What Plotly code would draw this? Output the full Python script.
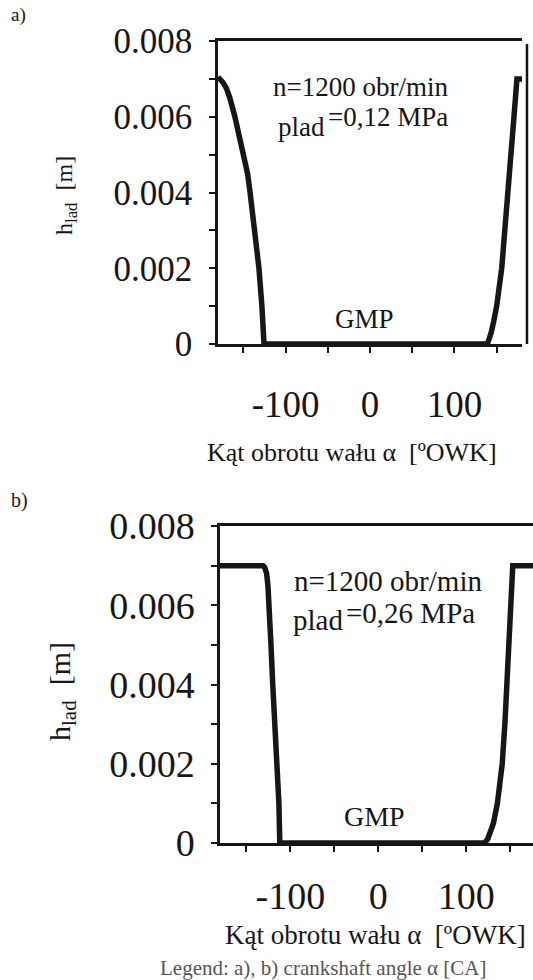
import plotly.graph_objects as go

# ---- data ----
alpha_a = [-180, -177, -174, -170, -166, -160, -155, -149, -145, -142, -136, -131.5, -128, -125.5,
           139, 141, 143.5, 146.5, 150, 156, 160, 163.5, 167, 170.5, 174, 180]
h_a = [0.00705, 0.00699, 0.0069, 0.00675, 0.0065, 0.0060, 0.0055, 0.0050, 0.0045, 0.0040, 0.0030, 0.0020, 0.0010, 0.0,
       0.0, 0.0001, 0.0003, 0.0006, 0.0010, 0.0020, 0.0030, 0.0040, 0.0050, 0.0060, 0.0070, 0.0070]

alpha_b = [-180, -131, -129, -127, -125.5, -124, -122, -120, -117.5, -115, -113, -112,
           121, 124.5, 128, 131, 135.5, 141, 144, 146, 148, 149.7, 151.5, 153, 180]
h_b = [0.0070, 0.0070, 0.00695, 0.0068, 0.0065, 0.0060, 0.0050, 0.0040, 0.0030, 0.0020, 0.0010, 0.0,
       0.0, 0.0001, 0.0003, 0.0005, 0.0010, 0.0020, 0.0030, 0.0040, 0.0050, 0.0060, 0.0069, 0.0070, 0.0070]

y_tickvals = [0, 0.001, 0.002, 0.003, 0.004, 0.005, 0.006, 0.007, 0.008]
y_ticktext = ["0", "", "0.002", "", "0.004", "", "0.006", "", "0.008"]
x_tickvals = [-150, -100, -50, 0, 50, 100, 150]
x_ticktext = ["", "-100", "", "0", "", "100", ""]

label_n = "n=1200 obr/min"
label_p_a = "=0,12 MPa"
label_p_b = "=0,26 MPa"
label_sym = "plad"
label_gmp = "GMP"
x_title = "Kąt obrotu wału α  [ºOWK]"
y_title = "h<sub>lad</sub>  [m]"
caption = "Legend: a), b) crankshaft angle α [CA]"

W, H = 533, 980
FONT = "Liberation Serif, Times New Roman, Times, serif"
INK = "#161616"


def px(xp):
    return xp / W


def py(yp):
    return 1 - yp / H


fig = go.Figure()
fig.add_trace(go.Scatter(x=alpha_a, y=h_a, mode="lines", line=dict(color=INK, width=5.5),
                         xaxis="x", yaxis="y", showlegend=False, hoverinfo="skip"))
fig.add_trace(go.Scatter(x=alpha_b, y=h_b, mode="lines", line=dict(color=INK, width=5.5),
                         xaxis="x2", yaxis="y2", showlegend=False, hoverinfo="skip"))


def xax(domain, rng, size, standoff):
    return dict(domain=domain, range=rng, tickmode="array", tickvals=x_tickvals, ticktext=x_ticktext,
                ticks="outside", ticklen=6, tickwidth=2, tickcolor=INK, showline=True, linewidth=2.5,
                linecolor=INK, mirror=True, showgrid=False, zeroline=False, automargin=False,
                tickfont=dict(family=FONT, size=size, color=INK), ticklabelstandoff=standoff)


def yax(domain, size, standoff, anchor):
    return dict(domain=domain, range=[0, 0.008], tickmode="array", tickvals=y_tickvals, ticktext=y_ticktext,
                ticks="outside", ticklen=6, tickwidth=2, tickcolor=INK, showline=True, linewidth=2.5,
                linecolor=INK, mirror=False, showgrid=False, zeroline=False, anchor=anchor, automargin=False,
                tickfont=dict(family=FONT, size=size, color=INK), ticklabelstandoff=standoff)


fig.update_layout(
    width=W, height=H, autosize=False,
    margin=dict(l=0, r=0, t=0, b=0, pad=0, autoexpand=False),
    paper_bgcolor="white", plot_bgcolor="white",
    xaxis=dict(**xax([px(218), px(522)], [-180, 180], 37, 20), anchor="y"),
    yaxis=yax([py(344), py(41)], 35, 10, "x"),
    xaxis2=dict(**xax([px(220), 1.0], [-180, 176], 38, 12), anchor="y2"),
    yaxis2=yax([py(843), py(526)], 38, 9, "x2"),
)

# separate right border line of panel a
fig.add_shape(type="line", xref="x domain", yref="y domain", x0=1.0164, x1=1.0164, y0=0.0, y1=0.99,
              line=dict(color=INK, width=2.5))

ann = []


def T(text, x, y, size, xanchor="left", color=INK, angle=0):
    ann.append(dict(text=text, x=px(x), y=py(y), xref="paper", yref="paper", xanchor=xanchor,
                    yanchor="middle", showarrow=False, textangle=angle,
                    font=dict(family=FONT, size=size, color=color)))


# panel a
T("a)", 9, 15, 19)
T(label_n, 271, 87, 27)
T(label_sym, 327, 127, 27, xanchor="right")
T(label_p_a, 326, 117, 27)
T(label_gmp, 364, 319, 27, xanchor="center")
T(x_title, 352, 452, 26, xanchor="center")
T(y_title, 66, 196, 24, xanchor="center", angle=-90)

# panel b
T("b)", 9, 500, 20)
T(label_n, 292, 581, 29)
T(label_sym, 345, 620, 29, xanchor="right")
T(label_p_b, 344, 613, 29)
T(label_gmp, 374, 816, 28, xanchor="center")
T(x_title, 375, 935, 27, xanchor="center")
T(y_title, 62, 692, 30, xanchor="center", angle=-90)

T(caption, 323, 968, 21, xanchor="center", color="#555555")

fig.update_layout(annotations=ann)
fig.write_html("out.html")
